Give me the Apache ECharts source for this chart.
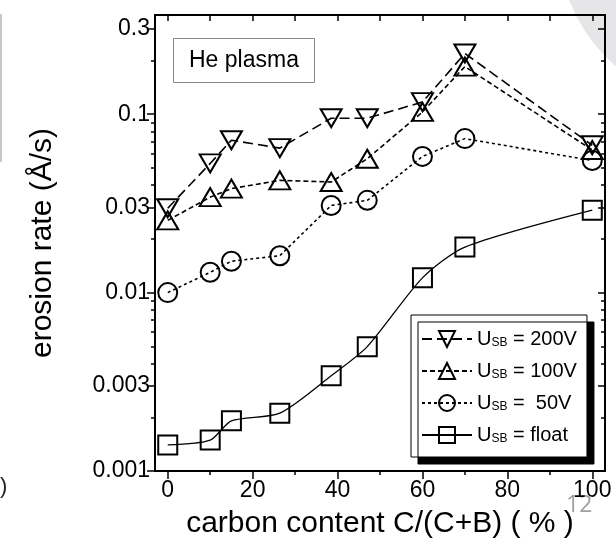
<!DOCTYPE html>
<html>
<head>
<meta charset="utf-8">
<script src="https://cdn.jsdelivr.net/npm/echarts@6.0.0/dist/echarts.min.js"></script>
<style>
html, body { margin: 0; padding: 0; background: #fff; }
#chart { width: 616px; height: 553px; }
</style>
</head>
<body>
<div id="chart"></div>
<script>
// carbon content C/(C+B) in %
var carbon = [0, 10, 15, 26.4, 38.5, 47, 60, 70, 100];
// erosion rate in A/s, one list per substrate bias
var rate200 = [0.0297, 0.053, 0.0715, 0.0646, 0.095, 0.095, 0.117, 0.219, 0.067];
var rate100 = [0.0254, 0.0343, 0.0383, 0.0426, 0.0417, 0.0563, 0.103, 0.185, 0.063];
var rate50 = [0.010, 0.013, 0.015, 0.0161, 0.0308, 0.0329, 0.058, 0.073, 0.055];
var rateFloat = [0.0014, 0.00149, 0.00191, 0.00211, 0.00342, 0.00498, 0.0121, 0.018, 0.029];

var legendNames = ['200V', '100V', ' 50V', 'float'];

// ticks
var xMajor = [0, 20, 40, 60, 80, 100];
var xMinor = [10, 30, 50, 70, 90];
var yMajor = [0.001, 0.003, 0.01, 0.03, 0.1, 0.3];
var yMinor = [0.002, 0.004, 0.005, 0.006, 0.007, 0.008, 0.009,
  0.02, 0.04, 0.05, 0.06, 0.07, 0.08, 0.09, 0.2];

var font = '"Liberation Sans", Arial, sans-serif';

function pairs(xs, ys) {
  return xs.map(function (x, i) { return [x, ys[i]]; });
}

// one axis for every tick group (major / minor, both sides)
function xAx(pos, ticks, len, inside, labels) {
  return {
    type: 'value', min: -3, max: 103, position: pos,
    axisLine: { show: true, onZero: false, lineStyle: { color: '#000', width: 2 } },
    axisTick: { show: true, customValues: ticks, length: len, inside: inside,
      lineStyle: { color: '#000', width: 1.5 } },
    axisLabel: { show: !!labels, customValues: ticks, margin: 8, fontSize: 23,
      color: '#000', fontFamily: font },
    splitLine: { show: false }
  };
}
function yAx(pos, ticks, len, inside, labels) {
  return {
    type: 'log', logBase: 10, min: 0.001, max: 0.36, position: pos,
    axisLine: { show: true, onZero: false, lineStyle: { color: '#000', width: 2 } },
    axisTick: { show: true, customValues: ticks, length: len, inside: inside,
      lineStyle: { color: '#000', width: 1.5 } },
    axisLabel: { show: !!labels, customValues: ticks, margin: 5, fontSize: 23,
      color: '#000', fontFamily: font,
      formatter: function (v) { return String(+(+v).toPrecision(3)); } },
    splitLine: { show: false }
  };
}

var xBottom = xAx('bottom', xMajor, 8, false, true);
xBottom.name = 'carbon content C/(C+B) ( % )';
xBottom.nameLocation = 'middle';
xBottom.nameGap = 38;
xBottom.nameTextStyle = { fontSize: 30, color: '#000', fontFamily: font };

var yLeft = yAx('left', yMajor, 8, false, true);
yLeft.name = 'erosion rate (Å/s)';
yLeft.nameLocation = 'middle';
yLeft.nameGap = 97;
yLeft.nameTextStyle = { fontSize: 30, color: '#000', fontFamily: font };

var hollow = { color: 'rgba(255,255,255,0)', borderColor: '#000', borderWidth: 2 };

var chart = echarts.init(document.getElementById('chart'));
chart.setOption({
  animation: false,
  backgroundColor: '#fff',
  grid: { left: 155, right: 11, top: 15, bottom: 82 },
  title: {
    text: 'He plasma', left: 173, top: 38,
    padding: [11, 16, 11, 16],
    borderColor: '#888', borderWidth: 1,
    textStyle: { fontSize: 23, fontWeight: 'normal', color: '#000', fontFamily: font }
  },
  legend: {
    orient: 'vertical', left: 411, top: 315,
    padding: [14, 10, 12, 10], itemGap: 12,
    itemWidth: 50, itemHeight: 20,
    backgroundColor: '#fff', borderColor: '#000', borderWidth: 1,
    shadowColor: '#000', shadowBlur: 0, shadowOffsetX: 7, shadowOffsetY: 7,
    data: legendNames,
    formatter: function (name) { return '{u|U}{s|SB}{t| = ' + name + '}'; },
    textStyle: {
      color: '#000', fontFamily: font,
      rich: {
        u: { fontSize: 20, fontFamily: font, color: '#000' },
        s: { fontSize: 12, fontFamily: font, color: '#000', verticalAlign: 'bottom' },
        t: { fontSize: 20, fontFamily: font, color: '#000' }
      }
    }
  },
  xAxis: [
    xBottom,
    xAx('bottom', xMinor, 4, false, false),
    xAx('top', xMajor.concat(xMinor), 6, true, false)
  ],
  yAxis: [
    yLeft,
    yAx('left', yMinor, 4, false, false),
    yAx('right', yMajor, 7, true, false),
    yAx('right', yMinor, 4, true, false)
  ],
  graphic: [
    { type: 'circle', shape: { cx: 725, cy: -60, r: 145 }, z: -10, silent: true,
      style: { fill: 'none', stroke: '#e6e6e8', lineWidth: 44 } },
    { type: 'text', left: 566, top: 494, silent: true,
      style: { text: '12', fill: '#a0a0a0', fontSize: 23, fontFamily: '"Open Sans", sans-serif' } },
    { type: 'text', left: 0, top: 476, silent: true,
      style: { text: ')', fill: '#222', fontSize: 22, fontFamily: font } },
    { type: 'rect', shape: { x: 0, y: 14, width: 2, height: 148 }, silent: true,
      style: { fill: '#c8c8c8' } }
  ],
  series: [
    { name: legendNames[0], type: 'line', data: pairs(carbon, rate200),
      symbol: 'triangle', symbolRotate: 180, symbolSize: [21, 18],
      lineStyle: { color: '#000', width: 1.6, type: [10, 5] }, itemStyle: hollow },
    { name: legendNames[1], type: 'line', data: pairs(carbon, rate100),
      symbol: 'triangle', symbolSize: [21, 18],
      lineStyle: { color: '#000', width: 1.6, type: [5, 3] }, itemStyle: hollow },
    { name: legendNames[2], type: 'line', data: pairs(carbon, rate50),
      symbol: 'circle', symbolSize: 19,
      lineStyle: { color: '#000', width: 1.6, type: [3, 3] }, itemStyle: hollow },
    { name: legendNames[3], type: 'line', data: pairs(carbon, rateFloat),
      symbol: 'rect', symbolSize: 19, smooth: 0.25,
      lineStyle: { color: '#000', width: 1.3, type: 'solid' }, itemStyle: hollow }
  ]
});
</script>
</body>
</html>
